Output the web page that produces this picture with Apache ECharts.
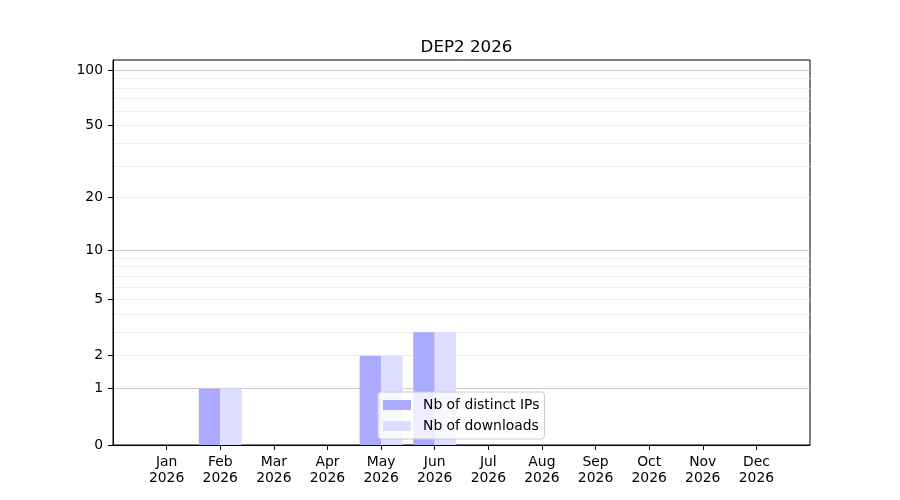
<!DOCTYPE html>
<html>
<head>
<meta charset="utf-8">
<script src="https://cdn.jsdelivr.net/npm/echarts@6/dist/echarts.min.js"></script>
<style>
  html, body { margin: 0; padding: 0; background: #fff; }
  #chart { width: 900px; height: 500px; }
</style>
</head>
<body>
<div id="chart"></div>
<script>
const months = ['Jan', 'Feb', 'Mar', 'Apr', 'May', 'Jun', 'Jul', 'Aug', 'Sep', 'Oct', 'Nov', 'Dec'];
const year = '2026';
const distinctIPs = [0, 1, 0, 0, 2, 3, 0, 0, 0, 0, 0, 0];
const downloads = [0, 1, 0, 0, 2, 3, 0, 0, 0, 0, 0, 0];
const yTickLabels = [0, 1, 2, 5, 10, 20, 50, 100];
const yMajorGrid = [1, 10, 100];
const yMinorGrid = [2, 3, 4, 5, 6, 7, 8, 9, 20, 30, 40, 50, 60, 70, 80, 90];
const yLimit = 113.2;

// y scale is log10(v + 1), same as the original plot
const toScale = v => Math.log10(v + 1);
const fromScale = s => Math.round(Math.pow(10, s) - 1);

const font = 'DejaVu Sans';
const yMax = toScale(yLimit);
const monthIdx = months.map((m, i) => i);

const chart = echarts.init(document.getElementById('chart'), null, { renderer: 'canvas' });

const gridAxis = (values, color) => ({
  type: 'value', min: 0, max: yMax, position: 'left',
  axisLine: { show: false, onZero: false },
  axisLabel: { show: false },
  axisTick: { show: false, customValues: values.map(toScale) },
  splitLine: { show: true, lineStyle: { color: color, width: 1 } }
});

const option = {
  animation: false,
  backgroundColor: '#fff',
  textStyle: { fontFamily: font },
  title: {
    text: 'DEP2 ' + year,
    left: 461.5, top: 34, textAlign: 'center',
    textStyle: { fontFamily: font, fontSize: 16.7, fontWeight: 'normal', color: '#000' }
  },
  grid: {
    left: 113, right: 90, top: 60, bottom: 55,
    show: true, borderColor: '#000', borderWidth: 1, backgroundColor: 'transparent'
  },
  legend: {
    left: 378, top: 392, orient: 'vertical',
    itemWidth: 28, itemHeight: 10, itemGap: 5,
    icon: 'rect',
    padding: [5, 5, 5, 5],
    backgroundColor: 'rgba(255,255,255,0.8)',
    borderColor: '#cccccc', borderWidth: 1, borderRadius: 3,
    textStyle: { fontFamily: font, fontSize: 13.9, color: '#000', lineHeight: 16, padding: [0, 0, 0, 7] },
    data: ['Nb of distinct IPs', 'Nb of downloads']
  },
  xAxis: {
    type: 'value', min: -1, max: 12, interval: 1,
    axisLine: { show: true, onZero: false, lineStyle: { color: '#000', width: 1 } },
    axisTick: { show: true, length: 5, customValues: monthIdx, lineStyle: { color: '#000' } },
    axisLabel: {
      customValues: monthIdx, margin: 9,
      fontFamily: font, fontSize: 13.9, color: '#000', lineHeight: 16,
      formatter: v => months[v] + '\n' + year
    },
    splitLine: { show: false }
  },
  yAxis: [
    {
      type: 'value', min: 0, max: yMax, position: 'left',
      axisLine: { show: true, onZero: false, lineStyle: { color: '#000', width: 1 } },
      axisTick: { show: true, length: 5, customValues: yTickLabels.map(toScale), lineStyle: { color: '#000' } },
      axisLabel: {
        customValues: yTickLabels.map(toScale), margin: 10,
        fontFamily: font, fontSize: 13.9, color: '#000',
        formatter: v => String(fromScale(v))
      },
      splitLine: { show: false }
    },
    gridAxis(yMinorGrid, '#ececec'),
    gridAxis(yMajorGrid, '#cbcbcb')
  ],
  series: [
    {
      name: 'Nb of distinct IPs', type: 'bar',
      barWidth: '40%', barGap: '0%',
      itemStyle: { color: '#aaaaff' },
      data: distinctIPs.map((v, i) => [i, toScale(v)])
    },
    {
      name: 'Nb of downloads', type: 'bar',
      barWidth: '40%', barGap: '0%',
      itemStyle: { color: '#ddddff' },
      data: downloads.map((v, i) => [i, toScale(v)])
    }
  ]
};

chart.setOption(option);
</script>
</body>
</html>
